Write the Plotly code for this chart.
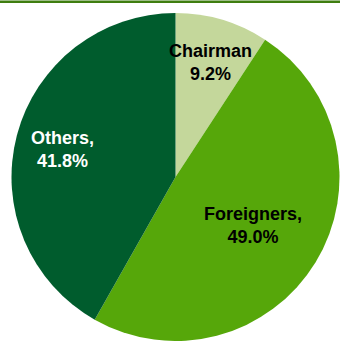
import math
import plotly.graph_objects as go

# Shareholding structure
labels = ["Chairman", "Foreigners", "Others"]
values = [9.2, 49.0, 41.8]
label_text = ["Chairman<br>{:.1f}%", "Foreigners,<br>{:.1f}%", "Others,<br>{:.1f}%"]

colors = ["#C4D79B", "#56A70A", "#005C2D"]
text_colors = ["#000000", "#000000", "#FFFFFF"]
label_radius = [0.74, 0.55, 0.71]  # fraction of pie radius for each label

W, H = 340, 341
x_dom = [11 / W, 1.0]
y_dom = [0.0, 328 / H]

fig = go.Figure(go.Pie(
    labels=labels,
    values=values,
    sort=False,
    direction="clockwise",
    rotation=0,
    marker=dict(colors=colors, line=dict(width=0)),
    textinfo="none",
    hoverinfo="label+percent",
    showlegend=False,
    domain=dict(x=x_dom, y=y_dom),
))

# Labels placed along each slice's mid-angle
cx = (x_dom[0] + x_dom[1]) / 2 * W
cy = (y_dom[0] + y_dom[1]) / 2 * H
r = min((x_dom[1] - x_dom[0]) * W, (y_dom[1] - y_dom[0]) * H) / 2
total = sum(values)
cum = 0.0
annotations = []
for lab, v, tpl, tc, rf in zip(labels, values, label_text, text_colors, label_radius):
    mid = (cum + v / 2) / total * 2 * math.pi
    cum += v
    px = cx + rf * r * math.sin(mid)
    py = cy + rf * r * math.cos(mid)
    annotations.append(dict(
        x=px / W, y=py / H, xref="paper", yref="paper",
        text="<b>" + tpl.format(v) + "</b>", showarrow=False,
        font=dict(family="Liberation Sans, Arial, sans-serif", size=18, color=tc),
        align="center", xanchor="center", yanchor="middle", yshift=-2,
    ))

fig.update_layout(
    width=W, height=H,
    margin=dict(l=0, r=0, t=0, b=0),
    paper_bgcolor="white",
    plot_bgcolor="white",
    annotations=annotations,
    shapes=[dict(type="line", xref="paper", yref="paper",
                 x0=0, x1=1, y0=1 - 1.8 / H, y1=1 - 1.8 / H,
                 line=dict(color="#3F7E10", width=2.5))],
)

fig.write_html("out.html")
